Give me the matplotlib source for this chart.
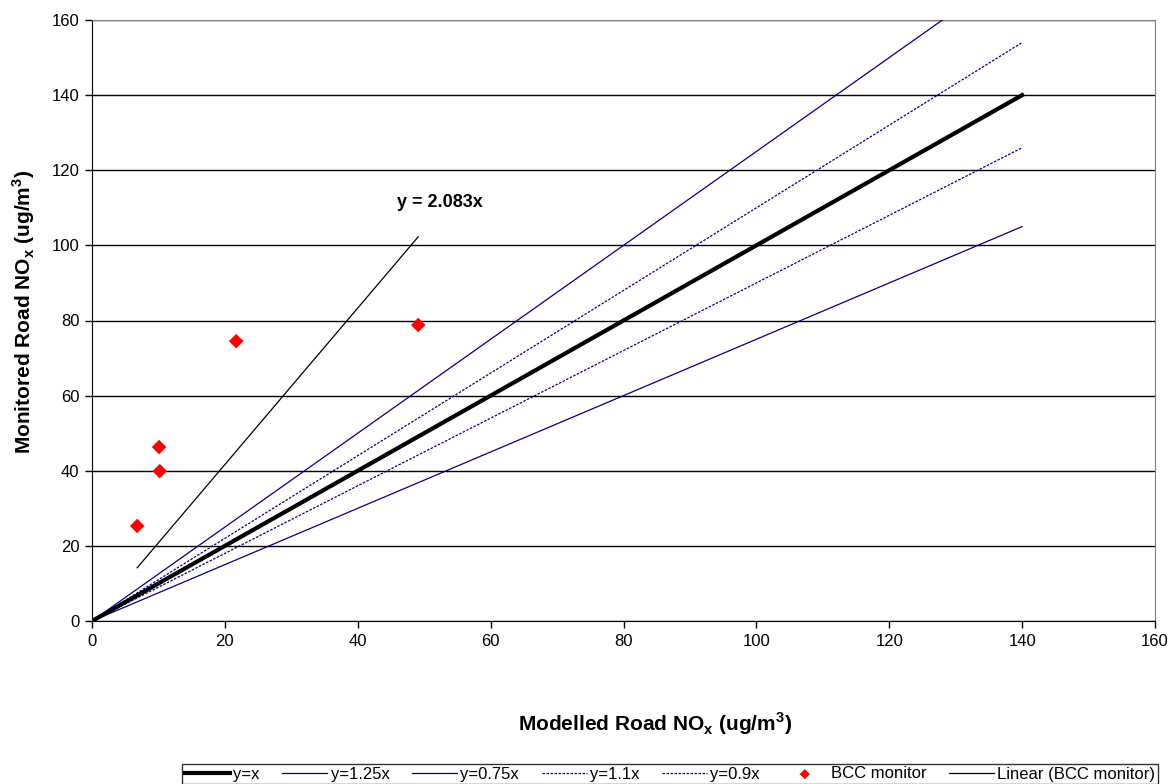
import matplotlib.pyplot as plt
import numpy as np

plt.rcParams['font.family'] = ['Liberation Sans', 'DejaVu Sans']
plt.rcParams['mathtext.fontset'] = 'custom'
plt.rcParams['mathtext.bf'] = 'Liberation Sans:bold'
plt.rcParams['mathtext.rm'] = 'Liberation Sans'

# reference lines
ref_x = [0, 140]
ref_lines = [("y=x", 1.0), ("y=1.25x", 1.25), ("y=0.75x", 0.75), ("y=1.1x", 1.1), ("y=0.9x", 0.9)]

# BCC monitor points
modelled = [6.8, 10.1, 10.2, 21.7, 49.1]
monitored = [25.3, 46.3, 39.9, 74.5, 78.8]
slope = 2.083

fig = plt.figure(figsize=(11.72, 7.84), dpi=100)
ax = fig.add_axes([92/1172, 1 - 621/784, (1155-92)/1172, (621-20)/784])

rx = np.array(ref_x)
navy = "#000080"
styles = {
    "y=x": dict(color="black", lw=3, zorder=4),
    "y=1.25x": dict(color=navy, lw=0.9, zorder=3),
    "y=0.75x": dict(color=navy, lw=0.9, zorder=3),
    "y=1.1x": dict(color=navy, lw=0.9, ls=(0, (2, 1.2)), zorder=3),
    "y=0.9x": dict(color=navy, lw=0.9, ls=(0, (2, 1.2)), zorder=3),
}
for name, k in ref_lines:
    ax.plot(rx, rx * k, label=name, **styles[name])
ax.scatter(modelled, monitored, marker="D", s=55, color="red", edgecolors="none",
           label="BCC monitor", zorder=5)
tx = np.array([min(modelled), max(modelled)])
ax.plot(tx, tx * slope, color="black", lw=0.9, label="Linear (BCC monitor)", zorder=4)

ax.text(52.4, 111.3, "y = 2.083x", fontsize=13, fontweight="bold", ha="center", va="center")

ax.set_xlim(0, 160)
ax.set_ylim(0, 160)
ax.set_xticks(range(0, 161, 20))
ax.set_yticks(range(0, 161, 20))
ax.yaxis.grid(True, color="black", lw=1)
ax.set_axisbelow(True)
ax.tick_params(labelsize=12, length=5, width=1, direction="out", pad=4)
for s in ["top", "right"]:
    ax.spines[s].set_color("#808080")
for s in ["left", "bottom"]:
    ax.spines[s].set_color("black")

fig.text(655/1172, 1 - 724/784, r"Modelled Road NO$_\mathbf{x}$ (ug/m$^\mathbf{3}$)",
         fontsize=15, fontweight="bold", ha="center", va="center")
fig.text(24/1172, 1 - 312/784, r"Monitored Road NO$_\mathbf{x}$ (ug/m$^\mathbf{3}$)",
         fontsize=15, fontweight="bold", ha="center", va="center", rotation=90)

leg = fig.legend(loc="center", bbox_to_anchor=(670/1172, 1 - 774/784), ncol=7, fontsize=12,
                 frameon=True, fancybox=False, edgecolor="black", handlelength=2.7,
                 handletextpad=0.2, columnspacing=1.35, borderpad=0.15, scatterpoints=1,
                 markerscale=0.7)
leg.get_frame().set_linewidth(1)

fig.savefig("out.png", dpi=100)
